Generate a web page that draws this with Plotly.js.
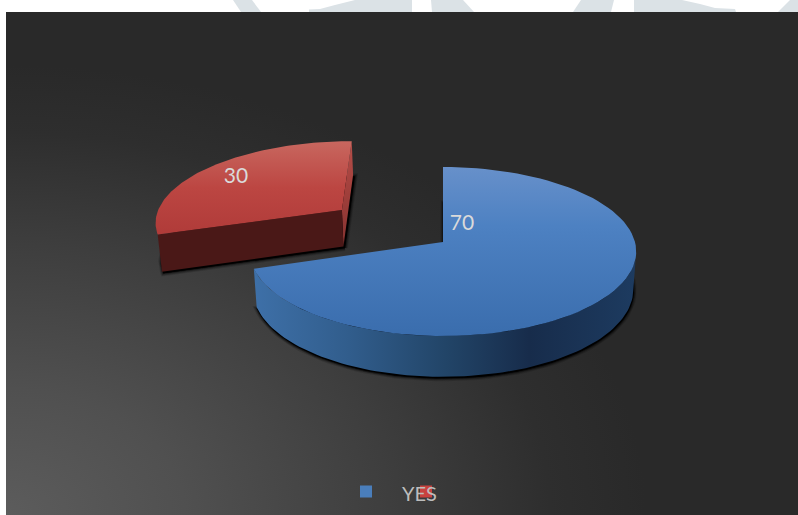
<!DOCTYPE html>
<html>
<head>
<meta charset="utf-8">
<script src="https://cdn.plot.ly/plotly-3.0.1.min.js"></script>
<style>
  html, body { margin: 0; padding: 0; background: #fff; width: 798px; height: 515px; overflow: hidden; }
  #panel { position: absolute; left: 6px; top: 12px; width: 792px; height: 503px;
    background: radial-gradient(ellipse 640px 450px at 0% 100%, #5c5c5c 0%, #505050 28%, #3e3e3e 60%, #2e2e2e 85%, #292929 100%), #292929; }
  #chart { position: absolute; left: 0; top: 0; width: 798px; height: 515px; }
</style>
</head>
<body>
<div id="panel"></div>
<div id="chart"></div>
<script>
// Slice values and the label shown in the legend
const sliceValues = [70, 30];
const sliceLabels = ['70', '30'];
const legendLabels = ['YES'];
const sliceExplode = [0, 0.68];

// Slice colours, listed from the top of each face to its bottom
const topGradients = [
  [[0, '#6790ca'], [0.35, '#4d81c2'], [1, '#3a6dad']],
  [[0, '#c8675f'], [0.5, '#bc4642'], [1, '#b03b39']]
];
const redWallGradient = [[0, '#b64e49'], [0.5, '#a03f3b'], [1, '#843230']];
const rimGradient = [[0, '#3e70a8'], [0.25, '#315d8c'], [0.5, '#224568'], [0.72, '#172c4b'], [1, '#1d3b60']];
const legendColors = ['#4a7ebb', '#c9423f'];

// The y axis runs downwards, so vertical gradients are given bottom first
const topDown = stops => stops.map(s => [1 - s[0], s[1]]).reverse();

// Camera of the tilted disc, in pixels of the plot area
const view = { cx: 443, cy: 242, rx: 192, ry: 83.4, persp: 0.1124, depth: 37.5, taper: 0.015 };

function project(x, y, z) {
  const d = 1 + view.persp * y;
  const s = 1 - view.taper * z;
  return [view.cx + view.rx * x * s / d,
          view.cy - view.ry * y * s / d + view.depth * z / d];
}

const total = sliceValues.reduce((a, b) => a + b, 0);
let running = 0;
const slices = sliceValues.map((v, i) => {
  const a0 = running / total * 2 * Math.PI;
  running += v;
  const a1 = running / total * 2 * Math.PI;
  const mid = (a0 + a1) / 2;
  return { a0, a1, mid,
    ox: sliceExplode[i] * Math.sin(mid),
    oy: sliceExplode[i] * Math.cos(mid) };
});

function arc(sl, from, to, z) {
  const n = 90, pts = [];
  for (let k = 0; k <= n; k++) {
    const t = from + (to - from) * k / n;
    pts.push(project(sl.ox + Math.sin(t), sl.oy + Math.cos(t), z));
  }
  return pts;
}
const apex = (sl, z) => project(sl.ox, sl.oy, z);

function poly(pts, extra) {
  return Object.assign({
    type: 'scatter', mode: 'lines', fill: 'toself', hoverinfo: 'skip', showlegend: false,
    x: pts.map(p => p[0]), y: pts.map(p => p[1]),
    line: { width: 0 }
  }, extra);
}

// Soft dark edge under a slice: the wedge at floor level, stroked in widening bands
function shadow(sl, dx, dy) {
  const pts = [apex(sl, 1)].concat(arc(sl, sl.a0, sl.a1, 1));
  pts.push(pts[0]);
  const shifted = pts.map(p => [p[0] + dx, p[1] + dy]);
  return [[6, 0.14], [4, 0.24], [2, 0.45]].map(b => poly(shifted, {
    fillcolor: 'rgba(0,0,0,0.8)',
    line: { width: b[0], color: 'rgba(0,0,0,' + b[1] + ')' }
  }));
}

const [blue, red] = slices;
const traces = [];

// Larger slice: floor shadow, curved rim, top face
traces.push(...shadow(blue, 0.5, 1.5));
const rimStart = Math.acos(-view.persp);
const blueRim = arc(blue, rimStart, blue.a1, 0).concat(arc(blue, blue.a1, rimStart, 1));
traces.push(poly(blueRim, { fillgradient: { type: 'horizontal', colorscale: rimGradient }, fillcolor: '#224568' }));
const blueTop = [apex(blue, 0)].concat(arc(blue, blue.a0, blue.a1, 0));
traces.push(poly(blueTop, { fillgradient: { type: 'vertical', colorscale: topDown(topGradients[0]) }, fillcolor: '#4a7ebb' }));

// Pulled-out slice: floor shadow, inner walls, top face
traces.push(...shadow(red, 1.5, 1.5));
const redBack = [apex(red, 0), project(red.ox + Math.sin(red.a1), red.oy + Math.cos(red.a1), 0),
                 project(red.ox + Math.sin(red.a1), red.oy + Math.cos(red.a1), 1), apex(red, 1)];
traces.push(poly(redBack, { fillgradient: { type: 'vertical', colorscale: topDown(redWallGradient) }, fillcolor: '#a03f3b' }));
const redFront = [apex(red, 0), project(red.ox + Math.sin(red.a0), red.oy + Math.cos(red.a0), 0),
                  project(red.ox + Math.sin(red.a0), red.oy + Math.cos(red.a0), 1), apex(red, 1)];
traces.push(poly(redFront, { fillcolor: '#4a1817' }));
const redTop = [apex(red, 0)].concat(arc(red, red.a0, red.a1, 0));
traces.push(poly(redTop, { fillgradient: { type: 'vertical', colorscale: topDown(topGradients[1]) }, fillcolor: '#bc4642' }));

// Legend swatches, then the value labels and legend text
traces.push({
  type: 'scatter', mode: 'markers', hoverinfo: 'skip', showlegend: false,
  x: [366, 426], y: [491.5, 491.5],
  marker: { symbol: 'square', size: 12, color: legendColors, line: { width: 0 } }
});
traces.push({
  type: 'scatter', mode: 'text', hoverinfo: 'skip', showlegend: false,
  x: [462, 236, 419.5], y: [225, 178, 496],
  text: [sliceLabels[0], sliceLabels[1], legendLabels[0]],
  textposition: 'middle center',
  textfont: { family: 'Lato, "Open Sans", sans-serif', size: [21, 21, 20], color: ['#dadada', '#dadada', '#bdbdbd'] }
});

// Pale backdrop fragments along the top edge of the page
const backdrop = [
  'M233,0 L252,0 L261,12 L241,12 Z',
  'M309,12 L309,9.5 L320,9 L335,5 L355,0 L412,0 L412,12 Z',
  'M431,0 L463,0 L474,12 L432,12 Z',
  'M581,0 L614,0 L611,12 L573,12 Z',
  'M634,0 L682,0 L700,4 L715,8 L735,9 L736,12 L634,12 Z',
  'M778,12 L790,0 L798,0 L798,12 Z'
];

const layout = {
  width: 798, height: 515,
  margin: { l: 0, r: 0, t: 0, b: 0 },
  paper_bgcolor: 'rgba(0,0,0,0)', plot_bgcolor: 'rgba(0,0,0,0)',
  showlegend: false,
  xaxis: { visible: false, range: [0, 798], fixedrange: true },
  yaxis: { visible: false, range: [515, 0], fixedrange: true },
  shapes: backdrop.map(d => ({ type: 'path', path: d, fillcolor: '#dbe2e6', line: { width: 0 }, layer: 'below' }))
};

Plotly.newPlot('chart', traces, layout, { staticPlot: true, displayModeBar: false });
</script>
</body>
</html>
